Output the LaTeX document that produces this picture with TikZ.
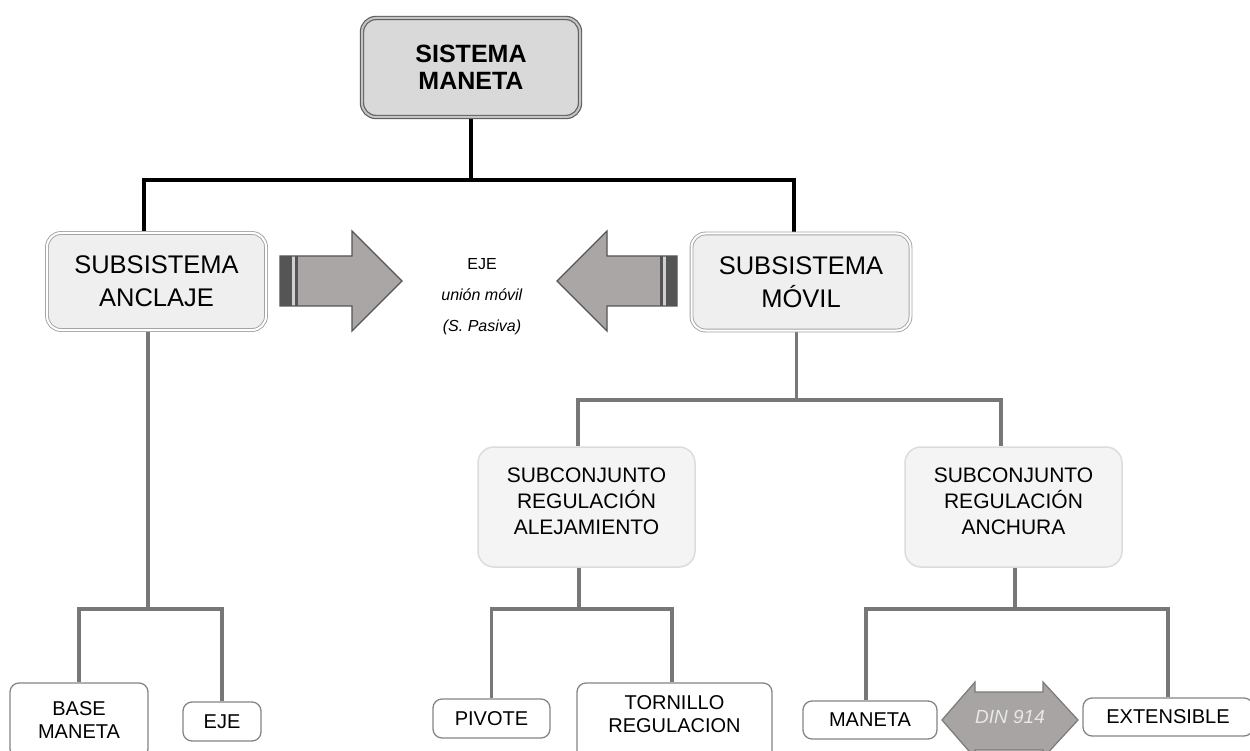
\documentclass[tikz,border=0pt]{standalone}
\usepackage{fontspec}
\setmainfont{Liberation Sans}
\usetikzlibrary{backgrounds}
\definecolor{topfill}{HTML}{D9D9D9}
\definecolor{topdraw}{HTML}{5F5F5F}
\definecolor{topdbl}{HTML}{C4C4C4}
\definecolor{subfill}{HTML}{EFEFEF}
\definecolor{subdraw}{HTML}{A3A3A3}
\definecolor{conjfill}{HTML}{F4F4F4}
\definecolor{conjdraw}{HTML}{DCDCDC}
\definecolor{leafdraw}{HTML}{858585}
\definecolor{lineg}{HTML}{777777}
\definecolor{arrowfill}{HTML}{AAA6A6}
\definecolor{arrowdraw}{HTML}{555555}
\definecolor{bardark}{HTML}{555555}
\definecolor{barlight}{HTML}{D0D0D0}
\definecolor{dinfill}{HTML}{A8A4A4}
\definecolor{dindraw}{HTML}{7A7A7A}
\definecolor{dintext}{HTML}{E8E8E8}
\begin{document}
\begin{tikzpicture}[x=1pt,y=-1pt,
  blk/.style={line width=4pt, draw=black},
  gry/.style={line width=3.5pt, draw=lineg},
  topbox/.style={rounded corners=14pt, minimum width=218pt, minimum height=99pt, fill=topfill, draw=topdraw, double=topdbl, double distance=2pt, line width=1.2pt, font=\bfseries\fontsize{25}{27}\selectfont, align=center, inner sep=0pt},
  subbox/.style={rounded corners=14pt, minimum width=219pt, minimum height=97pt, fill=subfill, draw=subdraw, double=white, double distance=2pt, line width=0.9pt, font=\fontsize{25.5}{33}\selectfont, align=center, inner sep=0pt},
  conjbox/.style={rounded corners=16pt, minimum width=217pt, minimum height=120pt, fill=conjfill, draw=conjdraw, line width=1.5pt, inner sep=0pt},
  conjtxt/.style={font=\fontsize{21}{26}\selectfont, align=center, yshift=6pt},
  leafbox/.style={rounded corners=9pt, draw=leafdraw, line width=1.3pt, fill=white, font=\fontsize{20}{23}\selectfont, align=center, inner sep=0pt},
  leaftxt/.style={font=\fontsize{20}{23}\selectfont, align=center},
  arrowsty/.style={draw=arrowdraw, line width=1.3pt, line join=miter},
]
\clip (0,0) rectangle (1250,751);

% boxes
\node[topbox] (top) at (471,67.5) {SISTEMA\\MANETA};
\node[subbox] (anc) at (156.5,281.5) {SUBSISTEMA\\ANCLAJE};
\node[subbox] (mov) at (801,282) {SUBSISTEMA\\MÓVIL};
\node[conjbox, label={[conjtxt]center:SUBCONJUNTO\\REGULACIÓN\\ALEJAMIENTO}] (alej) at (586.5,507) {};
\node[conjbox, label={[conjtxt]center:SUBCONJUNTO\\REGULACIÓN\\ANCHURA}] (anch) at (1013.5,507) {};

\node[leafbox, minimum width=138pt, minimum height=75pt] (base) at (79,720.5) {BASE\\MANETA};
\node[leafbox, minimum width=78pt, minimum height=39pt] (ejeb) at (222,721.5) {EJE};
\node[leafbox, minimum width=117pt, minimum height=39pt] (piv) at (491.5,718.5) {PIVOTE};
\node[leafbox, minimum width=195pt, minimum height=77pt, label={[leaftxt, yshift=7.5pt]center:TORNILLO\\REGULACION}] (torn) at (674.5,721.5) {};
\node[leafbox, minimum width=134pt, minimum height=38pt] (man) at (870,720) {MANETA};
\node[leafbox, minimum width=170pt, minimum height=38pt] (ext) at (1168,717) {EXTENSIBLE};

% central text
\node[align=center, font=\fontsize{16}{31}\selectfont] (ejet) at (482,297) {EJE\\\textit{unión móvil}\\\textit{(S. Pasiva)}};

% connectors
\begin{scope}[on background layer]
\fill[white] (0,0) rectangle (1250,751);
\coordinate (j0) at (471,180);
\draw[blk] (top.south) -- (j0) -| ([xshift=-12.5pt]anc.north);
\draw[blk] (j0) -| ([xshift=-7pt]mov.north);

\coordinate (j1) at (148,609);
\draw[gry] ([xshift=-8.5pt]anc.south) -- (j1);
\draw[gry] (base.north) |- (j1) -| (ejeb.north);

\coordinate (j2) at (796.5,400);
\draw[gry] ([xshift=-4.5pt]mov.south) -- (j2);
\draw[gry] ([xshift=-8.5pt]alej.north) |- (j2) -| ([xshift=-12.5pt]anch.north);

\coordinate (j3) at (579,609);
\draw[gry] ([xshift=-7.5pt]alej.south) -- (j3);
\draw[gry] (piv.north) |- (j3) -| ([xshift=-2.5pt]torn.north);

\coordinate (j4) at (1015,609);
\draw[gry] ([xshift=1.5pt]anch.south) -- (j4);
\draw[gry] ([xshift=-4pt]man.north) |- (j4) -| (ext.north);
\end{scope}

% right-pointing arrow
\fill[arrowfill] (280,256) -- (352,256) -- (352,231) -- (402,281) -- (352,331) -- (352,306) -- (280,306) -- cycle;
\fill[bardark] (280,256) rectangle (292,306);
\fill[barlight] (292,256) rectangle (295,306);
\fill[bardark] (295,256) rectangle (298,306);
\draw[arrowsty] (280,256) -- (352,256) -- (352,231) -- (402,281) -- (352,331) -- (352,306) -- (280,306) -- cycle;

% left-pointing arrow
\fill[arrowfill] (677,256) -- (607,256) -- (607,231) -- (557,281) -- (607,331) -- (607,306) -- (677,306) -- cycle;
\fill[bardark] (666,256) rectangle (677,306);
\fill[barlight] (663,256) rectangle (666,306);
\fill[bardark] (660,256) rectangle (663,306);
\draw[arrowsty] (677,256) -- (607,256) -- (607,231) -- (557,281) -- (607,331) -- (607,306) -- (677,306) -- cycle;

% double arrow
\draw[fill=dinfill, draw=dindraw, line width=1.2pt] (942,720) -- (975,682) -- (975,692) -- (1043,692) -- (1043,682) -- (1078,720) -- (1043,758) -- (1043,750) -- (975,750) -- (975,758) -- cycle;
\node[font=\itshape\fontsize{19}{22}\selectfont, text=dintext] (din) at (1010,717) {DIN 914};
\end{tikzpicture}
\end{document}
